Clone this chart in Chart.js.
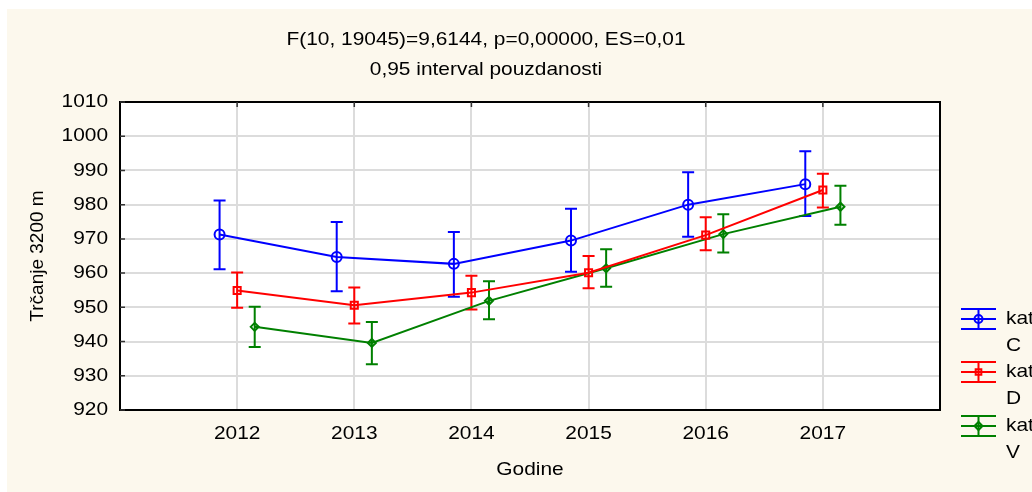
<!DOCTYPE html>
<html lang="hr">
<head>
  <meta charset="UTF-8" />
  <title>Trčanje 3200 m</title>
  <script src="https://cdn.jsdelivr.net/npm/chart.js"></script>
  <style>
    html, body { margin: 0; padding: 0; background: #fff; }
    #okvir { width: 1032px; height: 492px; }
  </style>
</head>
<body>
  <div id="okvir"><canvas id="graf" width="1032" height="492"></canvas></div>

<script>
// podaci ocitani sa slike
const godine = [2012, 2013, 2014, 2015, 2016, 2017];

const katC       = [971.3, 964.7, 962.7, 969.5, 980.0, 986.0];
const katCdonja  = [961.1, 954.7, 953.1, 960.4, 970.6, 976.7];
const katCgornja = [981.2, 974.9, 972.0, 978.8, 989.5, 995.6];

const katD       = [954.9, 950.6, 954.3, 960.1, 971.1, 984.3];
const katDdonja  = [949.9, 945.3, 949.4, 955.6, 966.7, 979.2];
const katDgornja = [960.2, 955.8, 959.2, 965.0, 976.3, 989.0];

const katV       = [944.3, 939.6, 951.9, 961.4, 971.4, 979.4];
const katVdonja  = [938.4, 933.4, 946.5, 956.0, 966.0, 974.1];
const katVgornja = [950.2, 945.7, 957.6, 967.0, 977.2, 985.5];

const yOznake = [920, 930, 940, 950, 960, 970, 980, 990, 1000, 1010];

const naslov1 = 'F(10, 19045)=9,6144, p=0,00000, ES=0,01';
const naslov2 = '0,95 interval pouzdanosti';
const xNaslov = 'Godine';
const yNaslov = 'Trčanje 3200 m';

const FONT = '19px "Liberation Sans", Arial, sans-serif';
const SX = 1.1; // slova na slici su malo razvucena

function tekst(ctx, s, x, y, align) {
  ctx.save();
  ctx.translate(x, y);
  ctx.scale(SX, 1);
  ctx.textAlign = align;
  ctx.textBaseline = 'middle';
  ctx.fillText(s, 0, 0);
  ctx.restore();
}

function serija(label, vrijednosti, donja, gornja, boja, stil, radius, pomak) {
  return {
    label: label,
    data: godine.map((g, i) => ({ x: g + pomak, y: vrijednosti[i] })),
    donja: donja,
    gornja: gornja,
    borderColor: boja,
    borderWidth: 2,
    pointStyle: stil,
    pointRadius: radius,
    pointBorderWidth: 2,
    pointBorderColor: boja,
    pointBackgroundColor: 'rgba(0,0,0,0)',
    tension: 0
  };
}

const pozadina = {
  id: 'pozadina',
  beforeDraw(chart) {
    const ctx = chart.ctx;
    const a = chart.chartArea;
    ctx.save();
    ctx.fillStyle = '#fff';
    ctx.fillRect(0, 0, chart.width, chart.height);
    ctx.fillStyle = '#fcf8ed';
    ctx.fillRect(7, 9, chart.width - 7, chart.height - 9);
    ctx.fillStyle = '#fff';
    ctx.fillRect(a.left, a.top, a.right - a.left, a.bottom - a.top);
    ctx.restore();
  }
};

const greske = {
  id: 'greske',
  beforeDatasetsDraw(chart) {
    const ctx = chart.ctx;
    const xs = chart.scales.x, ys = chart.scales.y;
    ctx.save();
    chart.data.datasets.forEach(ds => {
      ctx.strokeStyle = ds.borderColor;
      ctx.lineWidth = 2;
      ds.data.forEach((p, i) => {
        const px = xs.getPixelForValue(p.x);
        const y1 = ys.getPixelForValue(ds.donja[i]);
        const y2 = ys.getPixelForValue(ds.gornja[i]);
        ctx.beginPath();
        ctx.moveTo(px, y1); ctx.lineTo(px, y2);
        ctx.moveTo(px - 6, y1); ctx.lineTo(px + 6, y1);
        ctx.moveTo(px - 6, y2); ctx.lineTo(px + 6, y2);
        ctx.stroke();
      });
    });
    ctx.restore();
  }
};

const tekstovi = {
  id: 'tekstovi',
  afterDraw(chart) {
    const ctx = chart.ctx;
    const a = chart.chartArea;
    const xs = chart.scales.x, ys = chart.scales.y;
    ctx.save();

    // okvir i kratke crtice
    ctx.strokeStyle = '#000';
    ctx.lineWidth = 2;
    ctx.strokeRect(a.left, a.top, a.right - a.left, a.bottom - a.top);
    ctx.lineWidth = 1.5;
    ctx.strokeStyle = '#333';
    ctx.beginPath();
    yOznake.forEach(v => {
      const py = ys.getPixelForValue(v);
      ctx.moveTo(a.left, py); ctx.lineTo(a.left + 5, py);
    });
    godine.forEach(g => {
      const px = xs.getPixelForValue(g);
      ctx.moveTo(px, a.top); ctx.lineTo(px, a.top + 5);
    });
    ctx.stroke();

    ctx.fillStyle = '#000';
    ctx.font = FONT;
    yOznake.forEach(v => tekst(ctx, String(v), a.left - 12, ys.getPixelForValue(v), 'right'));
    godine.forEach(g => tekst(ctx, String(g), xs.getPixelForValue(g), a.bottom + 24, 'center'));

    tekst(ctx, naslov1, 486, 40, 'center');
    tekst(ctx, naslov2, 486, 70, 'center');
    tekst(ctx, xNaslov, (a.left + a.right) / 2, 470, 'center');

    ctx.save();
    ctx.translate(38, (a.top + a.bottom) / 2);
    ctx.rotate(-Math.PI / 2);
    ctx.textAlign = 'center';
    ctx.textBaseline = 'middle';
    ctx.fillText(yNaslov, 0, 0);
    ctx.restore();

    // legenda
    const redovi = [319, 372, 426];
    chart.data.datasets.forEach((ds, i) => {
      const cy = redovi[i];
      ctx.strokeStyle = ds.borderColor;
      ctx.lineWidth = 2;
      ctx.beginPath();
      [-10, 0, 10].forEach(d => { ctx.moveTo(961, cy + d); ctx.lineTo(996, cy + d); });
      ctx.moveTo(978.5, cy - 10); ctx.lineTo(978.5, cy + 10);
      ctx.stroke();
      ctx.fillStyle = 'rgba(0,0,0,0)';
      Chart.helpers.drawPoint(ctx, { pointStyle: ds.pointStyle, radius: 4, borderWidth: 2 }, 978.5, cy);
      ctx.fillStyle = '#000';
      const dijelovi = ds.label.split(' ');
      tekst(ctx, dijelovi[0], 1006, cy, 'left');
      tekst(ctx, dijelovi[1], 1006, cy + 27, 'left');
    });
    ctx.restore();
  }
};

new Chart(document.getElementById('graf'), {
  type: 'line',
  data: {
    datasets: [
      serija('kat C', katC, katCdonja, katCgornja, '#0000ff', 'circle', 5, -0.15),
      serija('kat D', katD, katDdonja, katDgornja, '#ff0000', 'rect', 5, 0),
      serija('kat V', katV, katVdonja, katVgornja, '#008000', 'rectRot', 4, 0.15)
    ]
  },
  options: {
    responsive: false,
    animation: false,
    devicePixelRatio: 1,
    layout: { padding: { top: 102, right: 92, left: 0, bottom: 0 } },
    plugins: { legend: { display: false }, title: { display: false }, tooltip: { enabled: false } },
    scales: {
      x: {
        type: 'linear',
        min: 2011,
        max: 2018,
        ticks: { display: false, stepSize: 1 },
        grid: { color: '#dcdcdc', lineWidth: 2, drawTicks: false },
        border: { display: false },
        afterFit(s) { s.height = 82; }
      },
      y: {
        min: 920,
        max: 1010,
        ticks: { display: false, stepSize: 10 },
        grid: { color: '#dcdcdc', lineWidth: 2, drawTicks: false },
        border: { display: false },
        afterFit(s) { s.width = 120; }
      }
    }
  },
  plugins: [pozadina, greske, tekstovi]
});
</script>
</body>
</html>
